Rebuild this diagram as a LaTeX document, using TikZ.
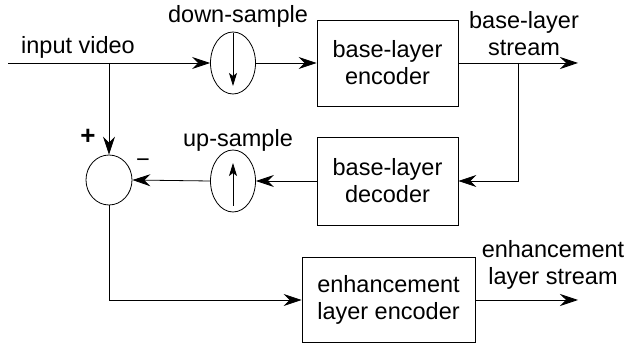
\documentclass[tikz,border=0pt]{standalone}
\usepackage{fontspec}
\setmainfont{Liberation Sans}
\usetikzlibrary{shapes.geometric,arrows.meta}
\begin{document}
\begin{tikzpicture}[x=1pt,y=-1pt,
  every node/.style={font=\fontsize{23.5}{27}\selectfont, inner sep=0pt},
  blk/.style={draw, line width=0.8pt, rectangle, align=center},
  oval/.style={draw, line width=0.8pt, ellipse, minimum width=45pt, minimum height=62pt},
  lbl/.style={align=center},
  conn/.style={line width=0.8pt, -{Stealth[length=18pt,width=12pt,inset=6pt]}},
  inarr/.style={line width=0.8pt, -{Stealth[length=13pt,width=8pt,inset=3pt]}}
]
\useasboundingbox (0,0) rectangle (627,344);
% nodes
\node[oval] (ds) at (233,63) {};
\node[oval] (us) at (233,181) {};
\node[draw, line width=0.8pt, ellipse, minimum width=46pt, minimum height=50pt] (sub) at (109,180) {};
\node[blk, minimum width=141pt, minimum height=86pt] (enc) at (387.5,63) {base-layer\\encoder};
\node[blk, minimum width=141pt, minimum height=88pt] (dec) at (387.5,181) {base-layer\\decoder};
\node[blk, minimum width=173pt, minimum height=85pt] (enh) at (388.5,300) {enhancement\\layer encoder};
% labels
\node[lbl] (lin) at (78,47) {input video};
\node[lbl] (lds) at (238,16) {down-sample};
\node[lbl] (lus) at (238,140) {up-sample};
\node[lbl] (lbs) at (524,34) {base-layer\\stream};
\node[lbl] (les) at (553,265) {enhancement\\layer stream};
\node[font=\fontsize{26}{28}\selectfont\bfseries] (plus) at (88,137) {+};
\node (minus) at (143,163) {−};
% coordinates
\coordinate (in) at (8,63);
\coordinate (tap) at (109,63);
\coordinate (fb) at (518,63);
\coordinate (out1) at (578,63);
\coordinate (out2) at (578,300);
\coordinate (dtop) at (233,33);
\coordinate (dtip) at (233,86);
\coordinate (ubot) at (233,206);
\coordinate (utip) at (233,163);
% connectors
\draw[conn] (in) -- (ds.west);
\draw[conn] (tap) -- (sub.north);
\draw[conn] (ds.east) -- (enc.west);
\draw[conn] (enc.east) -- (out1);
\draw[conn] (fb) |- (dec.east);
\draw[conn] (dec.west) -- (us.east);
\draw[conn] (us.west) -- (sub.east);
\draw[conn] (sub.south) |- (enh.west);
\draw[conn] (enh.east) -- (out2);
\draw[inarr] (dtop) -- (dtip);
\draw[inarr] (ubot) -- (utip);
\end{tikzpicture}
\end{document}
